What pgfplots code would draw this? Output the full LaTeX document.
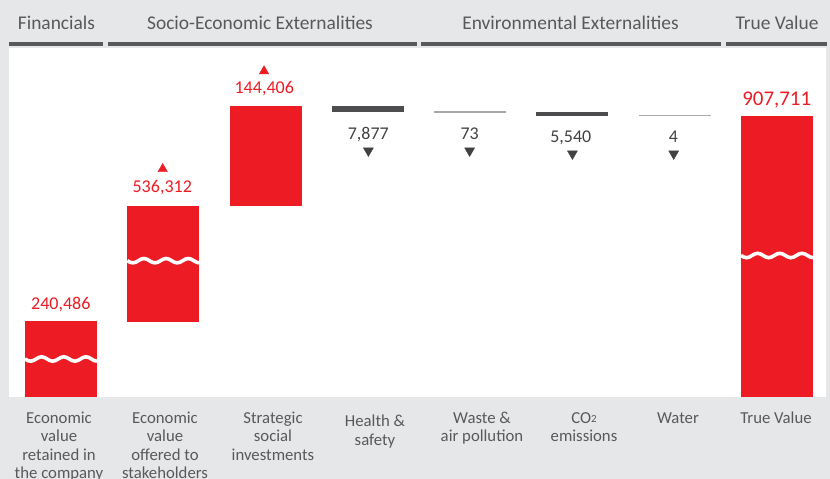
\documentclass[border=0pt]{standalone}
\usepackage{pgfplots}
\pgfplotsset{compat=1.18}
\usepackage{fontspec}
\setmainfont{Carlito}
\definecolor{bg}{HTML}{E6E7E8}
\definecolor{txt}{HTML}{58595B}
\definecolor{hline}{HTML}{58595B}
\definecolor{red1}{HTML}{ED1C24}
\definecolor{dark}{HTML}{4D4D4F}
\definecolor{light}{HTML}{A7A9AC}
\definecolor{val}{HTML}{414042}
\newcommand{\fl}{\rule{0pt}{12bp}}
\newcommand{\wave}[2]{\draw[white, line width=3.6bp] (axis cs:#1,#2) sin ++(5.54bp,-2.2bp) cos ++(5.54bp,2.2bp) sin ++(5.54bp,2.2bp) cos ++(5.54bp,-2.2bp) sin ++(5.54bp,-2.2bp) cos ++(5.54bp,2.2bp) sin ++(5.54bp,2.2bp) cos ++(5.54bp,-2.2bp) sin ++(5.54bp,-2.2bp) cos ++(5.54bp,2.2bp) sin ++(5.54bp,2.2bp) cos ++(5.54bp,-2.2bp) sin ++(5.54bp,-2.2bp);}
\begin{document}
\begin{tikzpicture}
\path[use as bounding box, fill=bg] (0,0) rectangle (830bp,479bp);
% header lines
\fill[hline] (9.3bp,433.4bp) rectangle (102.7bp,436.6bp);
\fill[hline] (107.7bp,433.4bp) rectangle (416.7bp,436.6bp);
\fill[hline] (421bp,433.4bp) rectangle (721bp,436.6bp);
\fill[hline] (725.7bp,433.4bp) rectangle (827bp,436.6bp);
% header texts
\begin{scope}[every node/.style={anchor=base, inner sep=0pt, text=txt, font=\fontsize{19.5}{23}\selectfont}]
\node at (56.5bp,449.5bp) {Financials};
\node at (260bp,449.5bp) {Socio-Economic Externalities};
\node at (570.5bp,449.5bp) {Environmental Externalities};
\node at (777bp,449.5bp) {True Value};
\end{scope}
\begin{axis}[
  at={(9bp,82bp)}, anchor=south west,
  width=817bp, height=349bp, scale only axis,
  xmin=-0.5084, xmax=7.4788, ymin=0, ymax=349,
  axis background/.style={fill=white},
  axis line style={draw=none},
  major tick length=0pt,
  ytick=\empty,
  xtick={-0.0196,1.0167,2.0725,3.0697,4.1158,5.1129,6.0318,6.9899},
  xticklabels={
    \fl Economic\\value\\retained in\\the company,
    \fl Economic\\value\\offered to\\stakeholders,
    \fl Strategic\\social\\investments,
    \rule{0pt}{15.4bp}Health \&\\safety,
    \fl Waste \&\\air pollution,
    \fl CO{\fontsize{11}{12}\selectfont\raisebox{0.8bp}{2}}\\emissions,
    \fl Water,
    \fl True Value},
  xticklabel style={align=center, anchor=north, inner sep=0pt, yshift=-14.3bp,
    font=\fontsize{16.8}{18.5}\selectfont, text=txt},
  clip=false,
]
% bars (visual positions, broken scale)
\addplot[fill=red1, draw=none] coordinates {(-0.352,0) (0.352,0) (0.352,76) (-0.352,76)} -- cycle;
\addplot[fill=red1, draw=none] coordinates {(0.648,75) (1.352,75) (1.352,191) (0.648,191)} -- cycle;
\addplot[fill=red1, draw=none] coordinates {(1.648,191) (2.352,191) (2.352,291.3) (1.648,291.3)} -- cycle;
\addplot[fill=dark, draw=none] coordinates {(2.648,285.3) (3.352,285.3) (3.352,291) (2.648,291)} -- cycle;
\addplot[fill=light, draw=none] coordinates {(3.648,284.2) (4.352,284.2) (4.352,285.8) (3.648,285.8)} -- cycle;
\addplot[fill=dark, draw=none] coordinates {(4.648,281.3) (5.352,281.3) (5.352,285) (4.648,285)} -- cycle;
\addplot[fill=light, draw=none] coordinates {(5.648,280.5) (6.352,280.5) (6.352,282.1) (5.648,282.1)} -- cycle;
\addplot[fill=red1, draw=none] coordinates {(6.648,0) (7.352,0) (7.352,281) (6.648,281)} -- cycle;
% break waves
\wave{-0.352}{38}
\wave{0.648}{136.3}
\wave{6.648}{141.5}
% triangles
\addplot[only marks, mark=triangle*, mark size=5.5bp, color=red1] coordinates {(0.994,228) (1.985,325.75)};
\addplot[only marks, mark=triangle*, mark size=5.7bp, color=val, every mark/.append style={rotate=180}] coordinates {(3.005,246.2) (3.995,246.2) (5.0,243.2) (5.99,243.2)};
% value labels
\begin{scope}[every node/.style={anchor=base, inner sep=0pt}]
\node[text=red1, font=\fontsize{18.1}{20}\selectfont] at (axis cs:-0.002,87) {240,486};
\node[text=red1, font=\fontsize{18.1}{20}\selectfont] at (axis cs:0.990,204.7) {536,312};
\node[text=red1, font=\fontsize{18.1}{20}\selectfont] at (axis cs:1.987,303.7) {144,406};
\node[text=red1, font=\fontsize{21}{24}\selectfont] at (axis cs:6.997,291) {907,711};
\node[text=val, font=\fontsize{18}{20}\selectfont] at (axis cs:3.004,257) {7,877};
\node[text=val, font=\fontsize{18}{20}\selectfont] at (axis cs:3.995,257) {73};
\node[text=val, font=\fontsize{18}{20}\selectfont] at (axis cs:4.984,254.3) {5,540};
\node[text=val, font=\fontsize{18}{20}\selectfont] at (axis cs:5.986,254.3) {4};
\end{scope}
\end{axis}
\end{tikzpicture}
\end{document}
